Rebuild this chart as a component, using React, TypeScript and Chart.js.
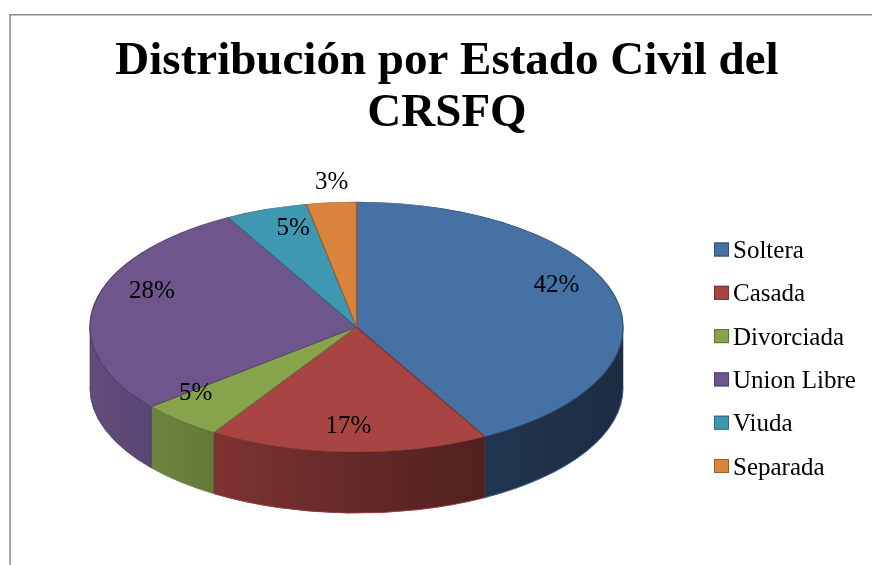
import React, { useEffect, useRef } from "react";
import { Chart, registerables } from "chart.js";

Chart.register(...registerables);

// ---- data ----
const TITLE_LINES = ["Distribución por Estado Civil del", "CRSFQ"];
const CATEGORIES = ["Soltera", "Casada", "Divorciada", "Union Libre", "Viuda", "Separada"];
const VALUES = [42, 17, 5, 28, 5, 3];
const TOP_COLORS = ["#4571A5", "#A84543", "#87A34C", "#6E568C", "#3F98B1", "#DB843D"];

// ---- style / layout ----
const W = 872;
const H = 565;
const SERIF = "'Liberation Serif', 'Times New Roman', serif";
const PIE = { cx: 356.5, cy: 327, rx: 266.5, ry: 125, depth: 61 };
// perspective-like placement used for the percentage labels
const LBL = { apexY: 303, a: 62.2, k: 0.192, rx: 261.5, f: 0.82, fSmall: 1.25, dy: 6, small: 4 };
const SIDE_STOPS: [number, number][] = [
  [0, 0.88],
  [0.2, 0.76],
  [0.75, 0.47],
  [1, 0.4],
];
const LEGEND = { boxX: 714, textX: 733, firstBaseline: 258, step: 43.3, boxW: 15, boxH: 14, font: 25 };

function hexToRgb(hex: string) {
  const h = hex.replace("#", "");
  return [parseInt(h.slice(0, 2), 16), parseInt(h.slice(2, 4), 16), parseInt(h.slice(4, 6), 16)];
}
function shade(hex: string, f: number) {
  const [r, g, b] = hexToRgb(hex);
  const c = (v: number) => Math.max(0, Math.min(255, Math.round(v * f)));
  return `rgb(${c(r)},${c(g)},${c(b)})`;
}

export default function App() {
  const ref = useRef<HTMLCanvasElement>(null);

  useEffect(() => {
    const canvas = ref.current!;
    const total = VALUES.reduce((s, v) => s + v, 0);

    const pie3d = {
      id: "pie3d",
      beforeDraw(chart: any) {
        const ctx = chart.ctx as CanvasRenderingContext2D;
        ctx.save();
        ctx.fillStyle = "#ffffff";
        ctx.fillRect(0, 0, W, H);
        ctx.fillStyle = "#8a8a8a";
        ctx.fillRect(9.3, 14, 1.5, H);
        ctx.fillRect(9.3, 14, W, 1.5);
        ctx.restore();
      },
      beforeDatasetsDraw(chart: any) {
        const ctx = chart.ctx as CanvasRenderingContext2D;
        const arcs = chart.getDatasetMeta(0).data as any[];
        const { cx, cy, rx, ry, depth } = PIE;
        // side walls (front half only)
        arcs.forEach((arc, i) => {
          const p = arc.getProps(["startAngle", "endAngle"], true);
          const a = Math.max(p.startAngle, 0);
          const b = Math.min(p.endAngle, Math.PI);
          if (b <= a) return;
          const grad = ctx.createLinearGradient(cx - rx, 0, cx + rx, 0);
          SIDE_STOPS.forEach(([t, f]) => grad.addColorStop(t, shade(TOP_COLORS[i], f)));
          ctx.beginPath();
          ctx.ellipse(cx, cy, rx, ry, 0, a, b, false);
          ctx.ellipse(cx, cy + depth, rx, ry, 0, b, a, true);
          ctx.closePath();
          ctx.fillStyle = grad;
          ctx.fill();
          ctx.strokeStyle = shade(TOP_COLORS[i], 0.55);
          ctx.lineWidth = 0.6;
          ctx.stroke();
          // faint light edge along the bottom rim
          ctx.beginPath();
          ctx.ellipse(cx, cy + depth, rx, ry, 0, a, b, false);
          ctx.strokeStyle = shade(TOP_COLORS[i], 0.9);
          ctx.lineWidth = 0.8;
          ctx.stroke();
        });
        // tilt the library-drawn top faces into an ellipse
        const g = arcs[0].getProps(["x", "y", "outerRadius"], true);
        ctx.save();
        ctx.translate(cx, cy);
        ctx.scale(rx / g.outerRadius, ry / g.outerRadius);
        ctx.translate(-g.x, -g.y);
      },
      afterDatasetsDraw(chart: any) {
        const ctx = chart.ctx as CanvasRenderingContext2D;
        ctx.restore();
        const arcs = chart.getDatasetMeta(0).data as any[];
        const values = chart.data.datasets[0].data as number[];
        ctx.save();
        ctx.fillStyle = "#000";
        ctx.font = `25px ${SERIF}`;
        ctx.textAlign = "center";
        ctx.textBaseline = "middle";
        arcs.forEach((arc, i) => {
          const p = arc.getProps(["startAngle", "endAngle"], true);
          const mid = (p.startAngle + p.endAngle) / 2;
          const pct = (values[i] / total) * 100;
          const f = pct < LBL.small ? LBL.fSmall : LBL.f;
          const u = f * Math.cos(mid);
          const v = f * Math.sin(mid);
          const d = 1 - LBL.k * v;
          const x = PIE.cx + (LBL.rx * u) / d;
          const y = (LBL.apexY + LBL.a * v) / d + (pct < LBL.small ? 0 : LBL.dy);
          ctx.fillText(`${Math.round(pct)}%`, x, y);
        });
        ctx.restore();
      },
      afterDraw(chart: any) {
        const ctx = chart.ctx as CanvasRenderingContext2D;
        const labels = chart.data.labels as string[];
        const colors = chart.data.datasets[0].backgroundColor as string[];
        ctx.save();
        ctx.font = `${LEGEND.font}px ${SERIF}`;
        ctx.textAlign = "left";
        ctx.textBaseline = "alphabetic";
        labels.forEach((lab, i) => {
          const base = LEGEND.firstBaseline + i * LEGEND.step;
          const by = base - 15.5;
          ctx.fillStyle = colors[i];
          ctx.fillRect(LEGEND.boxX, by, LEGEND.boxW, LEGEND.boxH);
          ctx.strokeStyle = shade(colors[i], 0.7);
          ctx.lineWidth = 1;
          ctx.strokeRect(LEGEND.boxX + 0.5, by + 0.5, LEGEND.boxW - 1, LEGEND.boxH - 1);
          ctx.fillStyle = "#000";
          ctx.fillText(lab, LEGEND.textX, base);
        });
        ctx.restore();
      },
    };

    const chart = new Chart(canvas, {
      type: "pie",
      data: {
        labels: CATEGORIES,
        datasets: [
          {
            data: VALUES,
            backgroundColor: TOP_COLORS,
            borderColor: TOP_COLORS.map((c) => shade(c, 0.72)),
            borderWidth: 1,
            clip: false as any,
          },
        ],
      },
      options: {
        responsive: false,
        animation: false,
        devicePixelRatio: 1,
        events: [],
        layout: { padding: { left: 22, right: 0, top: 0, bottom: 0 } },
        plugins: {
          legend: { display: false },
          tooltip: { enabled: false },
          title: {
            display: true,
            text: TITLE_LINES,
            color: "#000",
            font: { family: SERIF, size: 47, weight: "bold", lineHeight: 1.1 },
            padding: { top: 36, bottom: 10 },
          },
        },
      } as any,
      plugins: [pie3d],
    });
    return () => chart.destroy();
  }, []);

  return (
    <div style={{ position: "absolute", left: 0, top: 0, width: W, height: H, background: "#fff" }}>
      <canvas ref={ref} width={W} height={H} style={{ display: "block", width: W, height: H }} />
    </div>
  );
}
